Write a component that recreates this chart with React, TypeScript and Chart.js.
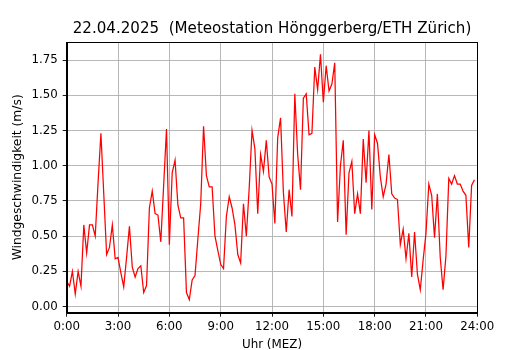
import { useEffect, useRef } from "react";
import { Chart, registerables } from "chart.js";

Chart.register(...registerables);

const chartTitle = "22.04.2025  (Meteostation Hönggerberg/ETH Zürich)";
const xAxisLabel = "Uhr (MEZ)";
const yAxisLabel = "Windgeschwindigkeit (m/s)";

// 10-minute samples from 0:00 to 23:50
const intervalMinutes = 10;
const windSpeed = [
  0.18, 0.145, 0.25, 0.09, 0.25, 0.145, 0.58, 0.38, 0.58, 0.58, 0.5, 0.88,
  1.23, 0.8, 0.37, 0.42, 0.58, 0.34, 0.35, 0.24, 0.14, 0.35, 0.57, 0.28,
  0.21, 0.27, 0.29, 0.1, 0.15, 0.7, 0.82, 0.66, 0.65, 0.46, 0.86, 1.26,
  0.44, 0.95, 1.04, 0.72, 0.63, 0.63, 0.1, 0.05, 0.19, 0.22, 0.48, 0.73,
  1.28, 0.93, 0.85, 0.85, 0.5, 0.4, 0.3, 0.27, 0.64, 0.78, 0.7, 0.58,
  0.37, 0.31, 0.73, 0.5, 0.84, 1.25, 1.12, 0.66, 1.08, 0.96, 1.18, 0.92,
  0.87, 0.59, 1.2, 1.34, 0.81, 0.53, 0.83, 0.64, 1.51, 1.08, 0.83, 1.48,
  1.51, 1.22, 1.23, 1.7, 1.54, 1.79, 1.45, 1.71, 1.53, 1.58, 1.73, 0.6,
  1.0, 1.18, 0.51, 0.95, 1.03, 0.66, 0.8, 0.66, 1.19, 0.88, 1.25, 0.69,
  1.22, 1.16, 0.92, 0.78, 0.87, 1.08, 0.8, 0.77, 0.76, 0.44, 0.55, 0.34,
  0.52, 0.21, 0.53, 0.23, 0.12, 0.33, 0.52, 0.87, 0.79, 0.49, 0.8, 0.35,
  0.12, 0.36, 0.91, 0.87, 0.93, 0.87, 0.87, 0.82, 0.79, 0.42, 0.86, 0.9,
];

const xTicks = [0, 3, 6, 9, 12, 15, 18, 21, 24];
const xTickLabels = ["0:00", "3:00", "6:00", "9:00", "12:00", "15:00", "18:00", "21:00", "24:00"];
const yTicks = [0, 0.25, 0.5, 0.75, 1.0, 1.25, 1.5, 1.75];
const yTickLabels = ["0.00", "0.25", "0.50", "0.75", "1.00", "1.25", "1.50", "1.75"];

const yMin = -0.043;
const yMax = 1.878;

const FONT = "DejaVu Sans";

export default function App() {
  const canvasRef = useRef<HTMLCanvasElement | null>(null);

  useEffect(() => {
    const canvas = canvasRef.current;
    if (!canvas) return;

    const points = windSpeed.map((v, i) => ({ x: (i * intervalMinutes) / 60, y: v }));

    const decor = {
      id: "decor",
      afterDraw(chart: any) {
        const { ctx, chartArea } = chart;
        ctx.save();
        // frame (all four spines)
        ctx.strokeStyle = "#000";
        ctx.lineWidth = 1;
        ctx.strokeRect(
          Math.round(chartArea.left) + 0.5,
          Math.round(chartArea.top) + 0.5,
          Math.round(chartArea.right) - Math.round(chartArea.left),
          Math.round(chartArea.bottom) - Math.round(chartArea.top)
        );
        ctx.fillStyle = "#000";
        // title
        ctx.font = `15.1px "${FONT}"`;
        ctx.textAlign = "center";
        ctx.textBaseline = "alphabetic";
        const cx = (chartArea.left + chartArea.right) / 2;
        ctx.fillText(chartTitle, cx, 32.5);
        // x label
        ctx.font = `11.9px "${FONT}"`;
        ctx.fillText(xAxisLabel, cx, 348);
        // y label
        ctx.font = `12.3px "${FONT}"`;
        ctx.translate(20.5, (chartArea.top + chartArea.bottom) / 2);
        ctx.rotate(-Math.PI / 2);
        ctx.fillText(yAxisLabel, 0, 0);
        ctx.restore();
      },
    };

    const chart = new Chart(canvas, {
      type: "line",
      data: {
        datasets: [
          {
            data: points,
            borderColor: "#ff0000",
            borderWidth: 1.25,
            pointRadius: 0,
            tension: 0,
            fill: false,
          },
        ],
      },
      options: {
        responsive: false,
        animation: false,
        devicePixelRatio: 1,
        layout: { padding: { top: 42, right: 52.7, left: 0, bottom: 0 } },
        plugins: {
          legend: { display: false },
          tooltip: { enabled: false },
          title: { display: false },
        },
        scales: {
          x: {
            type: "linear",
            min: 0,
            max: 24,
            afterBuildTicks: (scale: any) => {
              scale.ticks = xTicks.map((v) => ({ value: v }));
            },
            afterFit: (scale: any) => {
              scale.height = 350 - 312.7;
            },
            ticks: {
              autoSkip: false,
              maxRotation: 0,
              padding: 3,
              color: "#000",
              font: { family: FONT, size: 11.8 },
              callback: (_v: any, idx: number) => xTickLabels[idx],
            },
            grid: {
              color: "#b0b0b0",
              lineWidth: 0.9,
              tickColor: "#000",
              tickLength: 4,
            },
            border: { display: true, color: "#000", width: 1 },
          },
          y: {
            type: "linear",
            min: yMin,
            max: yMax,
            afterBuildTicks: (scale: any) => {
              scale.ticks = yTicks.map((v) => ({ value: v }));
            },
            afterFit: (scale: any) => {
              scale.width = 66.7;
            },
            ticks: {
              autoSkip: false,
              padding: 5,
              color: "#000",
              font: { family: FONT, size: 11.8 },
              callback: (_v: any, idx: number) => yTickLabels[idx],
            },
            grid: {
              color: "#b0b0b0",
              lineWidth: 0.9,
              tickColor: "#000",
              tickLength: 4,
            },
            border: { display: true, color: "#000", width: 1 },
          },
        },
      },
      plugins: [decor],
    } as any);

    return () => {
      chart.destroy();
    };
  }, []);

  return (
    <div style={{ position: "absolute", left: 0, top: 0, width: 530, height: 350, background: "#fff" }}>
      <canvas ref={canvasRef} width={530} height={350} />
    </div>
  );
}
